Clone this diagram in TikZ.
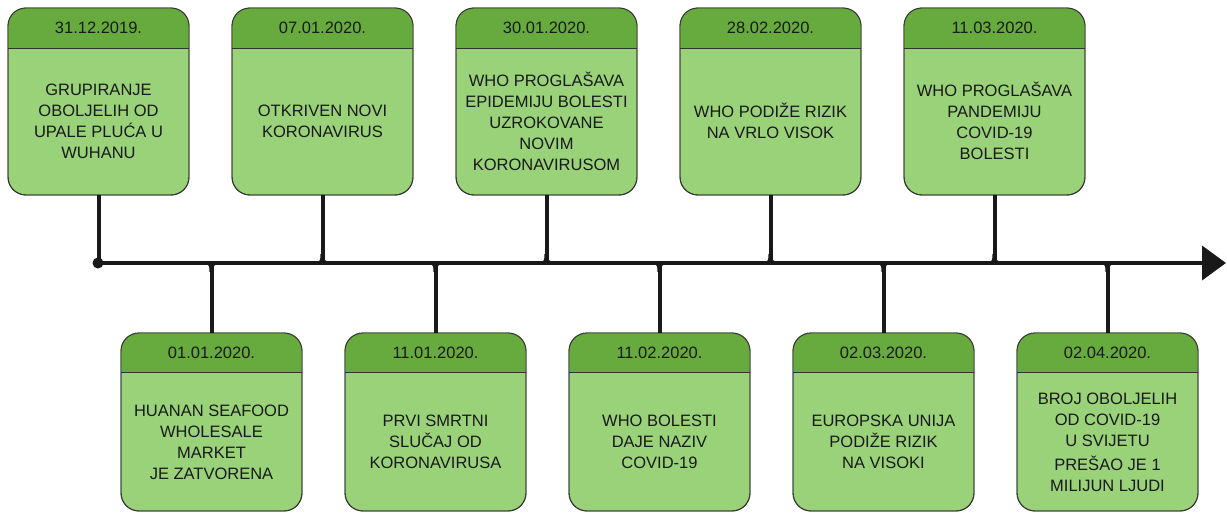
\documentclass[tikz,border=0pt]{standalone}
\usepackage{fontspec}
\setmainfont{Liberation Sans}
\usetikzlibrary{arrows.meta}
\definecolor{hdrgreen}{HTML}{67AB3E}
\definecolor{bodygreen}{HTML}{9AD27A}
\definecolor{edge}{HTML}{333333}
\tikzset{
  card/.style={draw=edge, line width=0.9pt, rounded corners=18pt, fill=bodygreen,
    minimum width=181pt, minimum height=#1, inner sep=0pt, outer sep=0pt},
  cardtext/.style={align=center, font=\fontsize{16.5pt}{21pt}\selectfont, text=black!90},
  stem/.style={line width=4pt, black!90},
  axis/.style={line width=4pt, black!90, -{Triangle[length=24pt,width=34pt]}},
}
\newcommand{\topcard}[4]{% name, left x, date, text
  \node[card=187pt, anchor=north west] (#1) at (#2,8) {};
  \begin{scope}
    \clip[rounded corners=18pt] (#1.north west) rectangle (#1.south east);
    \fill[hdrgreen] (#1.north west) rectangle ([yshift=-40pt]#1.north east);
  \end{scope}
  \draw[edge, line width=0.9pt, rounded corners=18pt] (#1.north west) rectangle (#1.south east);
  \draw[edge, line width=0.9pt] ([yshift=-40pt]#1.north west) -- ([yshift=-40pt]#1.north east);
  \node[cardtext] at ([yshift=-20pt]#1.north) {#3};
  \node[cardtext] at ([yshift=-113pt]#1.north) {#4};
}
\newcommand{\botcard}[4]{%
  \node[card=178pt, anchor=north west] (#1) at (#2,333) {};
  \begin{scope}
    \clip[rounded corners=18pt] (#1.north west) rectangle (#1.south east);
    \fill[hdrgreen] (#1.north west) rectangle ([yshift=-39pt]#1.north east);
  \end{scope}
  \draw[edge, line width=0.9pt, rounded corners=18pt] (#1.north west) rectangle (#1.south east);
  \draw[edge, line width=0.9pt] ([yshift=-39pt]#1.north west) -- ([yshift=-39pt]#1.north east);
  \node[cardtext] at ([yshift=-20pt]#1.north) {#3};
  \node[cardtext] at ([yshift=-109pt]#1.north) {#4};
}
\begin{document}
\begin{tikzpicture}[x=1pt,y=-1pt]
\useasboundingbox (0,0) rectangle (1227,515);
% cards
\topcard{t1}{8}{31.12.2019.}{GRUPIRANJE\\OBOLJELIH OD\\UPALE PLUĆA U\\WUHANU}
\topcard{t2}{232}{07.01.2020.}{OTKRIVEN NOVI\\KORONAVIRUS}
\topcard{t3}{456}{30.01.2020.}{WHO PROGLAŠAVA\\EPIDEMIJU BOLESTI\\UZROKOVANE\\NOVIM\\KORONAVIRUSOM}
\topcard{t4}{680}{28.02.2020.}{WHO PODIŽE RIZIK\\NA VRLO VISOK}
\topcard{t5}{904}{11.03.2020.}{WHO PROGLAŠAVA\\PANDEMIJU\\COVID-19\\BOLESTI}
\botcard{b1}{121}{01.01.2020.}{HUANAN SEAFOOD\\WHOLESALE\\MARKET\\JE ZATVORENA}
\botcard{b2}{345}{11.01.2020.}{PRVI SMRTNI\\SLUČAJ OD\\KORONAVIRUSA}
\botcard{b3}{569}{11.02.2020.}{WHO BOLESTI\\DAJE NAZIV\\COVID-19}
\botcard{b4}{793}{02.03.2020.}{EUROPSKA UNIJA\\PODIŽE RIZIK\\NA VISOKI}
\botcard{b5}{1017}{02.04.2020.}{BROJ OBOLJELIH\\OD COVID-19\\U SVIJETU\\[3pt]PREŠAO JE 1\\MILIJUN LJUDI}
% axis
\coordinate (start) at (98,263);
\coordinate (end) at (1226,263);
\foreach \n in {t1,t2,t3,t4,t5,b1,b2,b3,b4,b5}{
  \coordinate (j\n) at (\n.center |- start);
  \draw[stem] (\n) -- (j\n);
}
% fillets where stems meet the axis (above the axis)
\foreach \n in {t2,t3,t4,t5}{
  \fill[black!90] ([xshift=-8pt,yshift=1pt]j\n) .. controls ([xshift=-2pt,yshift=1pt]j\n) and ([xshift=-2pt,yshift=3pt]j\n) .. ([xshift=-2pt,yshift=9pt]j\n)
    -- ([xshift=2pt,yshift=9pt]j\n) .. controls ([xshift=2pt,yshift=3pt]j\n) and ([xshift=2pt,yshift=1pt]j\n) .. ([xshift=8pt,yshift=1pt]j\n) -- cycle;
}
% fillets below the axis
\foreach \n in {b1,b2,b3,b4,b5}{
  \fill[black!90] ([xshift=-8pt,yshift=-1pt]j\n) .. controls ([xshift=-2pt,yshift=-1pt]j\n) and ([xshift=-2pt,yshift=-3pt]j\n) .. ([xshift=-2pt,yshift=-9pt]j\n)
    -- ([xshift=2pt,yshift=-9pt]j\n) .. controls ([xshift=2pt,yshift=-3pt]j\n) and ([xshift=2pt,yshift=-1pt]j\n) .. ([xshift=8pt,yshift=-1pt]j\n) -- cycle;
}
\draw[axis] (start) -- (end);
\fill[black!90] (start) circle (5.5pt);
\end{tikzpicture}
\end{document}
